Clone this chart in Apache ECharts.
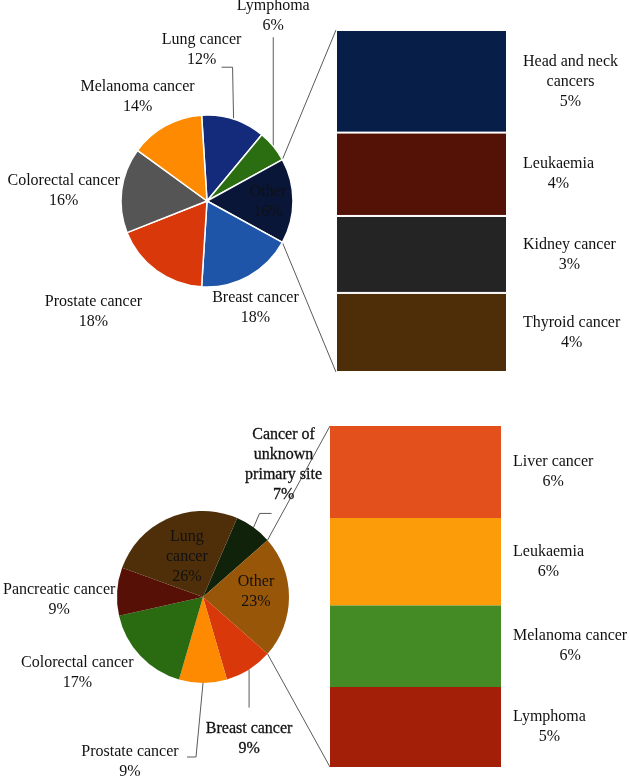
<!DOCTYPE html>
<html>
<head>
<meta charset="utf-8">
<script src="https://cdn.jsdelivr.net/npm/echarts@6/dist/echarts.min.js"></script>
<style>
html, body { margin: 0; padding: 0; background: #fff; }
#chart { width: 630px; height: 778px; }
</style>
</head>
<body>
<div id="chart"></div>
<script>
// ---- data: top chart ----
var topPieNames  = ['Lung cancer', 'Lymphoma', 'Other', 'Breast cancer', 'Prostate cancer', 'Colorectal cancer', 'Melanoma cancer'];
var topPieValues = [12, 6, 16, 18, 18, 16, 14];
var topBarNames  = ['Head and neck\ncancers', 'Leukaemia', 'Kidney cancer', 'Thyroid cancer'];
var topBarValues = [4.8, 3.9, 3.6, 3.7];
var topBarPct    = ['5%', '4%', '3%', '4%'];

// ---- data: bottom chart ----
var botPieNames  = ['Cancer of\nunknown\nprimary site', 'Other', 'Breast cancer', 'Prostate cancer', 'Colorectal cancer', 'Pancreatic cancer', 'Lung\ncancer'];
var botPieValues = [7, 23, 9, 9, 17, 9, 26];
var botBarNames  = ['Liver cancer', 'Leukaemia', 'Melanoma cancer', 'Lymphoma'];
var botBarValues = [6.2, 5.9, 5.5, 5.4];
var botBarPct    = ['6%', '6%', '6%', '5%'];

// ---- styles / layout ----
var FONT = '"Liberation Serif", "DejaVu Serif", serif';
var TXT = '#111';
var LINE = '#5a5a5a';

var topPieColors = ['#142a7b', '#2b6e12', '#0a1638', '#1f55a8', '#d9380a', '#555555', '#fd8a00'];
var topBarColors = ['#061e48', '#541207', '#242424', '#4d2e09'];
var botPieColors = ['#10230a', '#985609', '#d9380a', '#fd8a00', '#2a6b12', '#561005', '#4e2f0a'];
var botBarColors = ['#e4501b', '#fc9c08', '#448a25', '#a31f07'];

var topPie = {cx: 207, cy: 201, r: 86};
var botPie = {cx: 203, cy: 597, r: 86};
var topBox = {left: 336, top: 30, width: 171, height: 342, labelX: 187};
var botBox = {left: 330, top: 426, width: 171, height: 341, labelX: 183};

// label offsets from the outer mid point of each slice
var topLabelOff = [[-32, -69], [0, -130], [-25, 1], [7, 31], [-63, 41], [-58, 1], [-28, -29]];
var botLabelOff = [[30, -63], [-33, -5], [0, 69], [-73, 79], [-63, 17], [-58, 8], [18, 39]];
// leader lines (relative to slice mid point)
var topLeaders = {0: [[0, 0], [-1, -52], [-12, -52]], 1: [[0, 0], [0, -109], [0, -109]]};
var botLeaders = {0: [[0, 0], [6, -14], [18, -14]], 2: [[0, 0], [0, 38], [0, 38]], 3: [[0, 0], [-7, 74], [-16, 74]]};
var botHeavy = {0: true, 2: true};

function sum(a) { return a.reduce(function (s, v) { return s + v; }, 0); }

// start angle so that "Other" sits centred at 3 o'clock
function startAngle(values, otherIdx) {
    var before = sum(values.slice(0, otherIdx));
    return (before + values[otherIdx] / 2) / sum(values) * 360;
}

function pointAt(pie, cwDeg) {
    var a = cwDeg * Math.PI / 180;
    return [pie.cx + pie.r * Math.sin(a), pie.cy - pie.r * Math.cos(a)];
}

function midPoint(pie, values, idx, start) {
    var cw = 90 - start + (sum(values.slice(0, idx)) + values[idx] / 2) / sum(values) * 360;
    return pointAt(pie, cw);
}

function makePie(names, values, colors, pie, offs, leaders, heavy, border) {
    var start = startAngle(values, names.indexOf('Other'));
    return {
        type: 'pie',
        center: [pie.cx, pie.cy],
        radius: pie.r,
        startAngle: start,
        clockwise: true,
        avoidLabelOverlap: false,
        animation: false,
        itemStyle: border ? {borderColor: '#fff', borderWidth: 1.5} : {borderWidth: 0},
        emphasis: {disabled: true},
        label: {
            position: 'outside',
            formatter: '{b}\n{c}%',
            color: TXT,
            fontFamily: FONT,
            fontSize: 16,
            lineHeight: 20,
            textBorderWidth: 0,
            textShadowBlur: 0
        },
        labelLine: {show: true, length: 5, length2: 5, lineStyle: {color: LINE, width: 1}},
        labelLayout: function (p) {
            var i = p.dataIndex;
            var m = midPoint(pie, values, i, start);
            var res = {x: m[0] + offs[i][0], y: m[1] + offs[i][1], align: 'center', verticalAlign: 'middle'};
            if (leaders[i]) {
                res.labelLinePoints = leaders[i].map(function (d) { return [m[0] + d[0], m[1] + d[1]]; });
            }
            return res;
        },
        data: names.map(function (n, i) {
            return {
                name: n,
                value: values[i],
                itemStyle: {color: colors[i]},
                label: heavy[i] ? {textBorderColor: TXT, textBorderWidth: 0.3} : {},
                labelLine: {show: !!leaders[i]}
            };
        })
    };
}

function makeBars(names, values, pct, colors, box, idx, sep) {
    return names.map(function (n, i) {
        return {
            type: 'bar',
            xAxisIndex: idx,
            yAxisIndex: idx,
            stack: 'bar' + idx,
            barWidth: '100%',
            animation: false,
            data: [values[i]],
            itemStyle: sep ? {color: colors[i], borderColor: '#fff', borderWidth: 1} : {color: colors[i]},
            emphasis: {disabled: true},
            label: {
                show: true,
                position: [box.labelX, '50%'],
                align: 'left',
                verticalAlign: 'middle',
                formatter: function () {
                    return (n + '\n' + pct[i]).split('\n').map(function (s) { return '{c|' + s + '}'; }).join('\n');
                },
                rich: {c: {align: 'center', color: TXT, fontFamily: FONT, fontSize: 16, lineHeight: 20}}
            }
        };
    });
}

// lines from the edges of the "Other" slice to the bar corners
function connectors(pie, names, values, box) {
    var half = values[names.indexOf('Other')] / sum(values) * 180;
    var p1 = pointAt(pie, 90 - half);
    var p2 = pointAt(pie, 90 + half);
    var st = {stroke: LINE, lineWidth: 1};
    return [
        {type: 'line', shape: {x1: p1[0], y1: p1[1], x2: box.left, y2: box.top}, style: st, silent: true},
        {type: 'line', shape: {x1: p2[0], y1: p2[1], x2: box.left, y2: box.top + box.height}, style: st, silent: true}
    ];
}

var chart = echarts.init(document.getElementById('chart'));
chart.setOption({
    backgroundColor: '#fff',
    animation: false,
    grid: [
        {left: topBox.left, top: topBox.top, width: topBox.width, height: topBox.height},
        {left: botBox.left, top: botBox.top, width: botBox.width, height: botBox.height}
    ],
    xAxis: [
        {gridIndex: 0, type: 'category', data: [''], show: false},
        {gridIndex: 1, type: 'category', data: [''], show: false}
    ],
    yAxis: [
        {gridIndex: 0, type: 'value', min: 0, max: sum(topBarValues), inverse: true, show: false},
        {gridIndex: 1, type: 'value', min: 0, max: sum(botBarValues), inverse: true, show: false}
    ],
    graphic: connectors(topPie, topPieNames, topPieValues, topBox)
        .concat(connectors(botPie, botPieNames, botPieValues, botBox)),
    series: [
        makePie(topPieNames, topPieValues, topPieColors, topPie, topLabelOff, topLeaders, {}, true),
        makePie(botPieNames, botPieValues, botPieColors, botPie, botLabelOff, botLeaders, botHeavy, false)
    ].concat(makeBars(topBarNames, topBarValues, topBarPct, topBarColors, topBox, 0, true))
     .concat(makeBars(botBarNames, botBarValues, botBarPct, botBarColors, botBox, 1, false))
});
</script>
</body>
</html>
